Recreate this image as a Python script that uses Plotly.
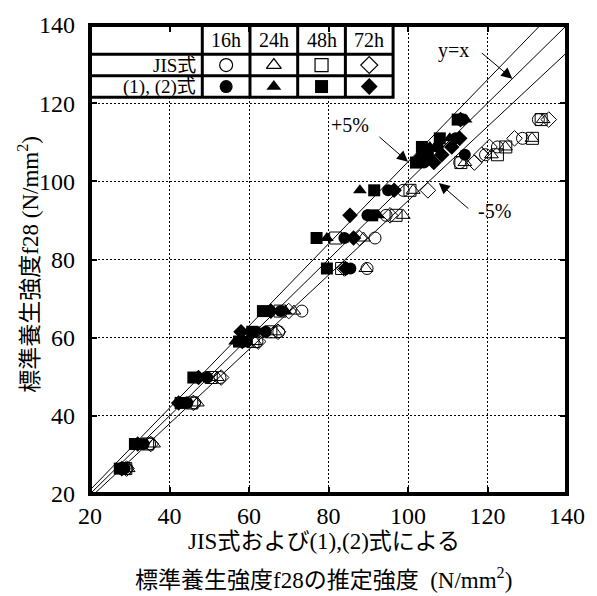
import plotly.graph_objects as go

# Specimen standard-cured strength f28 (N/mm2)
strength_f28 = [26.5, 32.8, 43.3, 49.8, 59.0, 61.5, 66.8, 77.7, 85.5, 91.3,
                97.7, 104.8, 106.8, 108.8, 111.0, 115.8]

# Estimated strength by the JIS formula (open markers)
jis_16h = [29.3, 35.0, 46.3, 52.7, 62.0, 67.5, 73.3, 89.7, 91.7, 94.5,
           98.8, 113.0, 119.5, 122.5, 128.8, 132.8]
jis_24h = [29.6, 36.0, 47.0, 52.0, 61.5, 66.5, 71.3, 89.4, 88.8, 98.8,
           101.3, 114.3, 121.0, 124.5, 131.2, 134.0]
jis_48h = [29.0, 34.5, 45.6, 50.5, 61.0, 65.5, 67.8, 83.3, 81.8, 97.0,
           100.5, 113.3, 122.5, 124.6, 131.3, 133.5]
jis_72h = [29.2, 35.3, 46.0, 53.0, 62.3, 67.3, 70.0, 84.0, 87.8, 95.5,
           105.0, 116.7, 118.5, 120.5, 126.8, 135.4]

# Estimated strength by equations (1),(2) (filled markers)
eq_16h = [28.7, 33.5, 44.5, 49.5, 59.5, 64.2, 68.0, 85.5, 84.0, 89.8,
          95.0, 104.0, 114.3, 107.5, 112.0, 113.8]
eq_24h = [28.2, 32.5, 43.5, 48.5, 56.5, 62.5, 69.2, 84.8, 79.6, 92.5,
          87.9, 103.0, 103.0, 105.5, 110.5, 114.5]
eq_48h = [27.5, 31.3, 42.8, 46.0, 57.5, 60.8, 63.5, 79.6, 77.0, 91.0,
          91.5, 102.0, 105.0, 103.5, 108.0, 112.5]
eq_72h = [28.0, 32.0, 42.3, 47.3, 58.3, 58.0, 65.5, 84.3, 86.3, 85.4,
          96.5, 106.5, 108.5, 111.0, 113.0, 113.2]

ages = ["16h", "24h", "48h", "72h"]
open_symbols = ["circle-open", "triangle-up-open", "square-open", "diamond-open"]
filled_symbols = ["circle", "triangle-up", "square", "diamond"]
row_labels = ["JIS式", "(1), (2)式"]

# Reference lines: +5 %, y = x, -5 %
ratio_lines = [1.05, 1.00, 0.95]
axis_min, axis_max = 20, 140

FONT = "Liberation Serif, Noto Sans CJK JP"
MARKER_SIZE = 12

fig = go.Figure()

for r in ratio_lines:
    fig.add_trace(go.Scatter(
        x=[axis_min, axis_max], y=[axis_min * r, axis_max * r],
        mode="lines", line=dict(color="black", width=1),
        showlegend=False, hoverinfo="skip"))

eq_sets = [eq_16h, eq_24h, eq_48h, eq_72h]
jis_sets = [jis_16h, jis_24h, jis_48h, jis_72h]

for xs, sym in zip(eq_sets, filled_symbols):
    fig.add_trace(go.Scatter(
        x=xs, y=strength_f28, mode="markers",
        marker=dict(symbol=sym, size=MARKER_SIZE, color="black",
                    line=dict(color="black", width=0)),
        showlegend=False))

for xs, sym in zip(jis_sets, open_symbols):
    fig.add_trace(go.Scatter(
        x=xs, y=strength_f28, mode="markers",
        marker=dict(symbol=sym, size=MARKER_SIZE, color="black",
                    line=dict(color="black", width=1)),
        showlegend=False))

# ---- key table in the upper-left corner ----
col_edges = [20, 48.25, 60.25, 72.25, 84.25, 96.25]
row_edges = [140, 132.5, 127.0, 121.5]
col_mid = [(col_edges[i] + col_edges[i + 1]) / 2 for i in range(1, 5)]
row_mid = [(row_edges[i] + row_edges[i + 1]) / 2 for i in range(3)]

shapes = [dict(type="rect", xref="x", yref="y",
               x0=col_edges[0], x1=col_edges[-1],
               y0=row_edges[-1], y1=row_edges[0],
               fillcolor="white", line=dict(color="black", width=3),
               layer="between")]
for xe in col_edges[1:-1]:
    shapes.append(dict(type="line", xref="x", yref="y", x0=xe, x1=xe,
                       y0=row_edges[-1], y1=row_edges[0],
                       line=dict(color="black", width=3), layer="between"))
for ye in row_edges[1:-1]:
    shapes.append(dict(type="line", xref="x", yref="y",
                       x0=col_edges[0], x1=col_edges[-1], y0=ye, y1=ye,
                       line=dict(color="black", width=3), layer="between"))

fig.add_trace(go.Scatter(
    x=col_mid, y=[row_mid[1]] * 4, mode="markers",
    marker=dict(symbol=open_symbols, size=13, color="black",
                line=dict(color="black", width=1.2)),
    showlegend=False, hoverinfo="skip"))
fig.add_trace(go.Scatter(
    x=col_mid, y=[row_mid[2]] * 4, mode="markers",
    marker=dict(symbol=filled_symbols, size=13, color="black",
                line=dict(width=0)),
    showlegend=False, hoverinfo="skip"))

annotations = []
for xm, a in zip(col_mid, ages):
    annotations.append(dict(x=xm, y=row_mid[0], xref="x", yref="y", text=a,
                            showarrow=False, xanchor="center",
                            yanchor="middle", font=dict(size=20)))
for lab, ym in zip(row_labels, row_mid[1:]):
    annotations.append(dict(x=col_edges[1] - 1.0, y=ym, xref="x", yref="y",
                            text=lab, showarrow=False, xanchor="right",
                            yanchor="middle", font=dict(size=19)))

# plot frame
shapes.append(dict(type="rect", xref="paper", yref="paper", x0=0, x1=1,
                   y0=0, y1=1, line=dict(color="black", width=4),
                   layer="above"))

# arrows pointing at the reference lines (tip in data units, tail offset
# in pixels)
for tip_x, tip_y, dx, dy in [(126.25, 126.25, -32, -27),
                             (100.0, 105.0, -30, -26),
                             (107.75, 99.6, 31, 27)]:
    annotations.append(dict(
        x=tip_x, y=tip_y, xref="x", yref="y", ax=dx, ay=dy, text="",
        showarrow=True, arrowhead=2, arrowsize=2.2, arrowwidth=1,
        arrowcolor="black"))

# line labels
for x, y, txt in [(111.5, 133.4, "y=x"), (85.5, 114.4, "+5%"),
                  (121.75, 92.3, "-5%")]:
    annotations.append(dict(x=x, y=y, xref="x", yref="y", text=txt,
                            showarrow=False, xanchor="center",
                            yanchor="middle", font=dict(size=20)))

# axis titles
annotations += [
    dict(x=-0.129, y=0.49, xref="paper", yref="paper", textangle=-90,
         text="標準養生強度f28&nbsp;(N/mm<sup>2</sup>)", showarrow=False,
         xanchor="center", yanchor="middle", font=dict(size=23)),
    dict(x=0.49, y=-0.102, xref="paper", yref="paper",
         text="JIS式および(1),(2)式による", showarrow=False,
         xanchor="center", yanchor="middle", font=dict(size=23)),
    dict(x=0.49, y=-0.18, xref="paper", yref="paper",
         text="標準養生強度f28の推定強度&nbsp;&nbsp;(N/mm<sup>2</sup>)",
         showarrow=False, xanchor="center", yanchor="middle",
         font=dict(size=23)),
]

axis_common = dict(range=[axis_min, axis_max], tick0=20, dtick=20,
                   showgrid=True, gridcolor="black", gridwidth=1,
                   griddash="2px,2px", zeroline=False, showline=False,
                   ticks="inside", ticklen=7, tickwidth=2, tickcolor="black",
                   mirror="ticks", tickfont=dict(size=24),
                   fixedrange=True)

fig.update_layout(
    width=597, height=596,
    margin=dict(l=90, r=27, t=13, b=102),
    paper_bgcolor="white", plot_bgcolor="white",
    font=dict(family=FONT, color="black", size=20),
    xaxis=dict(**axis_common, ticklabelstandoff=5),
    yaxis=dict(**axis_common, ticklabelstandoff=14),
    shapes=shapes, annotations=annotations,
    showlegend=False,
)

fig.write_html("out.html")
